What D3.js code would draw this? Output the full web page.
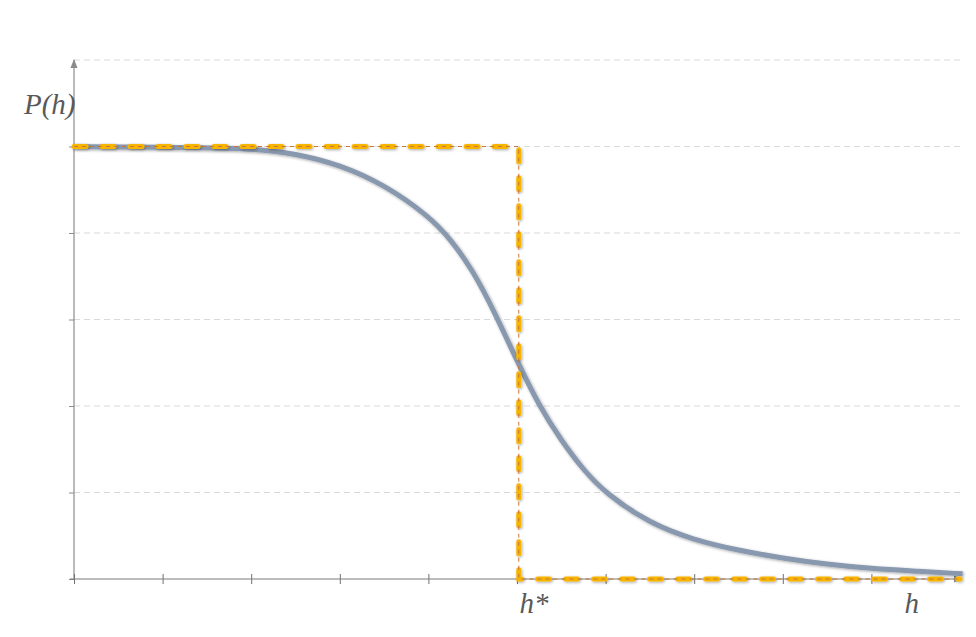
<!DOCTYPE html>
<html>
<head>
<meta charset="utf-8">
<script src="https://cdn.jsdelivr.net/npm/d3@7"></script>
<style>
  body { margin: 0; background: #fff; }
  .lbl { font-family: "Liberation Serif", "Times New Roman", serif; font-style: italic; fill: #595959; }
</style>
</head>
<body>
<svg id="chart" width="976" height="637"></svg>
<script>
// Data
var hValues = [0, 1, 2, 2.5, 3, 3.5, 4, 4.25, 4.5, 4.75, 5, 5.25, 5.5, 5.75, 6, 6.5, 7, 7.5, 8, 8.5, 9, 9.5, 10.03];
var pValues = [5.0, 4.99, 4.98, 4.92, 4.79, 4.56, 4.2, 3.93, 3.57, 3.08, 2.52, 2.0, 1.6, 1.26, 0.99, 0.64, 0.45, 0.33, 0.24, 0.17, 0.12, 0.09, 0.06];
var stepH = [0, 5.02, 5.02, 10];
var stepP = [5, 5, 0, 0];
var xTicks = [0, 1, 2, 3, 4, 5, 6, 7, 8, 9, 10];
var yTicks = [0, 1, 2, 3, 4, 5, 6];

var margin = { top: 60, right: 16, bottom: 58, left: 74 };
var svgWidth = 976, svgHeight = 637;
var chartWidth = svgWidth - margin.left - margin.right;
var chartHeight = svgHeight - margin.top - margin.bottom;

var svg = d3.select("#chart");

var defs = svg.append("defs");
var f = defs.append("filter").attr("id", "soft").attr("x", "-5%").attr("y", "-5%").attr("width", "110%").attr("height", "110%");
f.append("feGaussianBlur").attr("in", "SourceAlpha").attr("stdDeviation", 1.5).attr("result", "b");
f.append("feOffset").attr("in", "b").attr("dx", 0.5).attr("dy", 1).attr("result", "o");
f.append("feComponentTransfer").attr("in", "o").attr("result", "s")
  .append("feFuncA").attr("type", "linear").attr("slope", 0.35);
var fm = f.append("feMerge");
fm.append("feMergeNode").attr("in", "s");
fm.append("feMergeNode").attr("in", "SourceGraphic");

var m = defs.append("marker").attr("id", "arrow").attr("viewBox", "0 0 10 10")
  .attr("refX", 9).attr("refY", 5).attr("markerWidth", 9).attr("markerHeight", 9)
  .attr("markerUnits", "userSpaceOnUse").attr("orient", "auto");
m.append("path").attr("d", "M0,1 L10,5 L0,9 Z").attr("fill", "#8c8c8c");

var g = svg.append("g").attr("transform", `translate(${margin.left}, ${margin.top})`);

var xScale = d3.scaleLinear().domain([0, 10]).range([0, 886]);
var yScale = d3.scaleLinear().domain([0, 6]).range([chartHeight, 0]);

// gridlines
g.selectAll(".grid").data(yTicks.slice(1)).enter().append("line")
  .attr("x1", 0).attr("x2", xScale(10))
  .attr("y1", d => yScale(d)).attr("y2", d => yScale(d))
  .attr("stroke", "#d9d9d9").attr("stroke-dasharray", "6,4").attr("stroke-width", 1);

// y axis
var yAxis = d3.axisLeft(yScale).tickValues(yTicks.slice(0, 6)).tickSize(5).tickFormat("");
var ya = g.append("g").call(yAxis);
ya.select(".domain").remove();
ya.selectAll("line").attr("stroke", "#8c8c8c");
g.append("line").attr("x1", 0).attr("x2", 0).attr("y1", yScale(0)).attr("y2", yScale(6))
  .attr("stroke", "#8c8c8c").attr("stroke-width", 1.2).attr("marker-end", "url(#arrow)");

// x axis
var xAxis = d3.axisBottom(xScale).tickValues(xTicks.slice(0, 10)).tickSize(6).tickFormat("");
var xa = g.append("g").attr("transform", "translate(0," + chartHeight + ")").call(xAxis);
xa.select(".domain").remove();
xa.selectAll("line").attr("stroke", "#707070").attr("y1", -5).attr("y2", 5);
g.append("line").attr("x1", xScale(0) - 4).attr("x2", xScale(10) + 2)
  .attr("y1", chartHeight).attr("y2", chartHeight)
  .attr("stroke", "#7a7a7a").attr("stroke-width", 1.2).attr("marker-end", "url(#arrow)");

var curve = hValues.map((h, i) => ({ h: h, p: pValues[i] }));
var step = stepH.map((h, i) => ({ h: h, p: stepP[i] }));

var line = d3.line().x(d => xScale(d.h)).y(d => yScale(d.p));

// sigmoid curve
g.append("path").attr("d", line.curve(d3.curveBasis)(curve))
  .attr("fill", "none").attr("stroke", "#8898ae").attr("stroke-width", 5)
  .attr("filter", "url(#soft)");

// step function: thick yellow dashes over a thin orange dashed line
line.curve(d3.curveLinear);
g.append("path").attr("d", line(step))
  .attr("fill", "none").attr("stroke", "#f7b500").attr("stroke-width", 5)
  .attr("stroke-linecap", "round").attr("stroke-dasharray", "12,16")
  .attr("filter", "url(#soft)");
g.append("path").attr("d", line(step))
  .attr("fill", "none").attr("stroke", "#c8763a").attr("stroke-width", 1)
  .attr("stroke-dasharray", "4,4");

// labels
svg.append("text").attr("class", "lbl").attr("x", 24).attr("y", 114)
  .attr("font-size", 29).text("P(h)");
svg.append("text").attr("class", "lbl").attr("x", margin.left + xScale(5) + 17).attr("y", 613)
  .attr("text-anchor", "middle").attr("font-size", 29).text("h*");
svg.append("text").attr("class", "lbl").attr("x", margin.left + xScale(9.5) - 4).attr("y", 613)
  .attr("text-anchor", "middle").attr("font-size", 29).text("h");
</script>
</body>
</html>
